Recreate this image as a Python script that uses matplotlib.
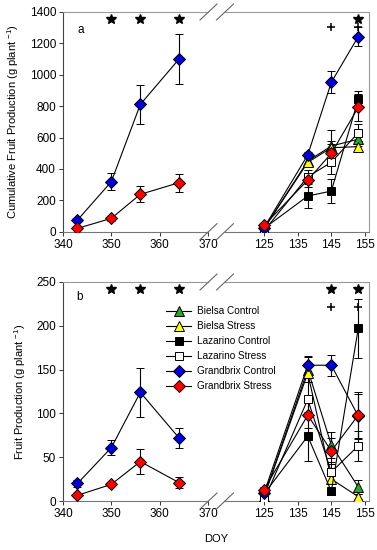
import matplotlib
matplotlib.use('Agg')
import matplotlib.pyplot as plt
from matplotlib.lines import Line2D

plt.rcParams['font.family'] = ['Liberation Sans', 'DejaVu Sans']
plt.rcParams['mathtext.fontset'] = 'custom'
plt.rcParams['mathtext.rm'] = 'Liberation Sans'
plt.rcParams['mathtext.default'] = 'regular'

# ---------------- data ----------------
doy_left = [343, 350, 356, 364]
doy_right = [125, 138, 145, 153]
xticks_left = [340, 350, 360, 370]
xticks_right = [125, 135, 145, 155]
yticks_a = [0, 200, 400, 600, 800, 1000, 1200, 1400]
yticks_b = [0, 50, 100, 150, 200, 250]

names = ['Bielsa Control', 'Bielsa Stress', 'Lazarino Control',
         'Lazarino Stress', 'Grandbrix Control', 'Grandbrix Stress']

# panel a: cumulative fruit production, first season (Grandbrix only)
a_gc_left = [74, 319, 811, 1100]
a_gc_left_err = [15, 53, 123, 162]
a_gs_left = [21, 85, 238, 312]
a_gs_left_err = [10, 15, 51, 58]

# panel a: second season
a_bc = [20, 450, 546, 589]
a_bc_err = [8, 30, 100, 40]
a_bs = [20, 442, 535, 542]
a_bs_err = [8, 25, 40, 30]
a_lc = [21, 227, 259, 843]
a_lc_err = [8, 77, 76, 55]
a_ls = [5, 350, 442, 631]
a_ls_err = [5, 40, 75, 55]
a_gc = [25, 489, 952, 1243]
a_gc_err = [8, 21, 69, 60]
a_gs = [40, 329, 499, 792]
a_gs_err = [8, 42, 60, 85]

# panel b: fruit production, first season
b_gc_left = [20, 61, 124, 72]
b_gc_left_err = [4, 9, 28, 11]
b_gs_left = [6.5, 19, 45, 21]
b_gs_left_err = [2, 2, 14, 6]

# panel b: second season
b_bc = [5, 150, 64, 16]
b_bc_err = [2, 14, 15, 8]
b_bs = [5, 146, 25, 5]
b_bs_err = [2, 10, 6, 3]
b_lc = [8, 74, 11, 197]
b_lc_err = [2, 28, 4, 34]
b_ls = [1, 116, 33, 63]
b_ls_err = [1, 20, 12, 17]
b_gc = [9, 155, 155, 97]
b_gc_err = [3, 10, 12, 25]
b_gs = [13, 98, 57, 98]
b_gs_err = [3, 15, 15, 27]

# significance marks
a_star_left_x = [350, 356, 364]
a_star_left_y = [1355, 1355, 1355]
a_star_right_x = [153]
a_star_right_y = [1358]
a_plus_right_x = [145, 153]
a_plus_right_y = [1305, 1302]
b_star_left_x = [350, 356, 364]
b_star_left_y = [242, 242, 242]
b_star_right_x = [145, 153]
b_star_right_y = [242, 242]
b_plus_right_x = [145, 153]
b_plus_right_y = [222, 222]

# ---------------- styles ----------------
styles = {
    'Bielsa Control': dict(marker='^', mfc='#22aa22', ms=6.5),
    'Bielsa Stress': dict(marker='^', mfc='#ffff00', ms=6.5),
    'Lazarino Control': dict(marker='s', mfc='black', ms=6),
    'Lazarino Stress': dict(marker='s', mfc='white', ms=6),
    'Grandbrix Control': dict(marker='D', mfc='#0000dd', ms=6.3),
    'Grandbrix Stress': dict(marker='D', mfc='#ff0000', ms=6.3),
}

W, H = 377, 550
fig = plt.figure(figsize=(W / 100, H / 100), dpi=100)


def fx(px):
    return px / W


def fy(py):
    return 1 - py / H


xl0, xl1, xr0, xr1 = 63, 208, 225, 369


def make_axes(top_px, bot_px):
    h = (bot_px - top_px) / H
    axl = fig.add_axes([fx(xl0), fy(bot_px), fx(xl1 - xl0), h])
    axr = fig.add_axes([fx(xr0), fy(bot_px), fx(xr1 - xr0), h])
    for ax in (axl, axr):
        ax.tick_params(direction='out', length=3, width=0.7, labelsize=8.5,
                       colors='#333333', labelcolor='black', pad=2)
        ax.spines['top'].set_color('#999999')
        ax.spines['bottom'].set_color('#777777')
        for s in ax.spines.values():
            s.set_linewidth(0.8)
        ax.patch.set_alpha(0)
    axl.spines['right'].set_visible(False)
    axl.spines['left'].set_color('#444444')
    axr.spines['left'].set_visible(False)
    axr.spines['right'].set_color('#999999')
    axr.tick_params(axis='y', left=False, labelleft=False)
    axl.set_xlim(340, 370)
    axl.set_xticks(xticks_left)
    axr.set_xlim(113.4, 156.2)
    axr.set_xticks(xticks_right)
    # break slashes
    for spine_py in (top_px, bot_px):
        for cx in (208.5, 225):
            fig.add_artist(Line2D([fx(cx - 8.5), fx(cx + 8.5)],
                                  [fy(spine_py + 8), fy(spine_py - 8)],
                                  transform=fig.transFigure, color='#666666', lw=0.8))
    return axl, axr


def series(ax, x, y, err, name, label=None):
    st = styles[name]
    ax.errorbar(x, y, yerr=err, color='black', lw=0.8, elinewidth=0.8,
                capsize=2.8, capthick=0.8, marker=st['marker'], mfc=st['mfc'],
                mec='black', mew=0.7, ms=st['ms'], label=label, zorder=3)


def marks(ax, sx, sy, px, py):
    if sx:
        ax.plot(sx, sy, linestyle='none', marker='*', color='black', ms=7.5, zorder=4)
    if px:
        ax.plot(px, py, linestyle='none', marker='+', color='black', ms=6, mew=1.1, zorder=4)


# ---------------- panel a ----------------
axa_l, axa_r = make_axes(12, 231.67)
for ax in (axa_l, axa_r):
    ax.set_ylim(0, 1400)
axa_l.set_yticks(yticks_a)
series(axa_l, doy_left, a_gc_left, a_gc_left_err, 'Grandbrix Control')
series(axa_l, doy_left, a_gs_left, a_gs_left_err, 'Grandbrix Stress')
for y, e, n in zip([a_bc, a_bs, a_lc, a_ls, a_gc, a_gs],
                   [a_bc_err, a_bs_err, a_lc_err, a_ls_err, a_gc_err, a_gs_err], names):
    series(axa_r, doy_right, y, e, n)
marks(axa_l, a_star_left_x, a_star_left_y, [], [])
marks(axa_r, a_star_right_x, a_star_right_y, a_plus_right_x, a_plus_right_y)
axa_l.set_ylabel('Cumulative Fruit Production (g plant $^{-1}$)', fontsize=8)
axa_l.yaxis.set_label_coords((21 - xl0) / (xl1 - xl0), 0.5)
axa_l.text((81 - xl0) / (xl1 - xl0), 1 - (30 - 12) / 219.67, 'a', fontsize=8.5,
           ha='center', va='center', transform=axa_l.transAxes)

# ---------------- panel b ----------------
axb_l, axb_r = make_axes(282, 501)
for ax in (axb_l, axb_r):
    ax.set_ylim(0, 250)
axb_l.set_yticks(yticks_b)
series(axb_l, doy_left, b_gc_left, b_gc_left_err, 'Grandbrix Control')
series(axb_l, doy_left, b_gs_left, b_gs_left_err, 'Grandbrix Stress')
for y, e, n in zip([b_bc, b_bs, b_lc, b_ls, b_gc, b_gs],
                   [b_bc_err, b_bs_err, b_lc_err, b_ls_err, b_gc_err, b_gs_err], names):
    series(axb_r, doy_right, y, e, n, label=n)
marks(axb_l, b_star_left_x, b_star_left_y, [], [])
marks(axb_r, b_star_right_x, b_star_right_y, b_plus_right_x, b_plus_right_y)
axb_l.set_ylabel('Fruit Production (g plant $^{-1}$)', fontsize=8)
axb_l.yaxis.set_label_coords((28 - xl0) / (xl1 - xl0), 0.5)
axb_l.text((80 - xl0) / (xl1 - xl0), 1 - (297 - 282) / 219, 'b', fontsize=8.5,
           ha='center', va='center', transform=axb_l.transAxes)

handles = [Line2D([], [], color='black', lw=0.8, marker=styles[n]['marker'],
                  mfc=styles[n]['mfc'], mec='black', mew=0.7, ms=styles[n]['ms'])
           for n in names]
fig.legend(handles, names, loc='upper left', bbox_to_anchor=(fx(166), fy(306)),
           frameon=False, fontsize=7.2, handlelength=2.5, handletextpad=0.6,
           labelspacing=0.5, borderpad=0, borderaxespad=0)

fig.text(fx(216), fy(539), 'DOY', fontsize=8, ha='center', va='center')

fig.savefig('out.png', dpi=100)
